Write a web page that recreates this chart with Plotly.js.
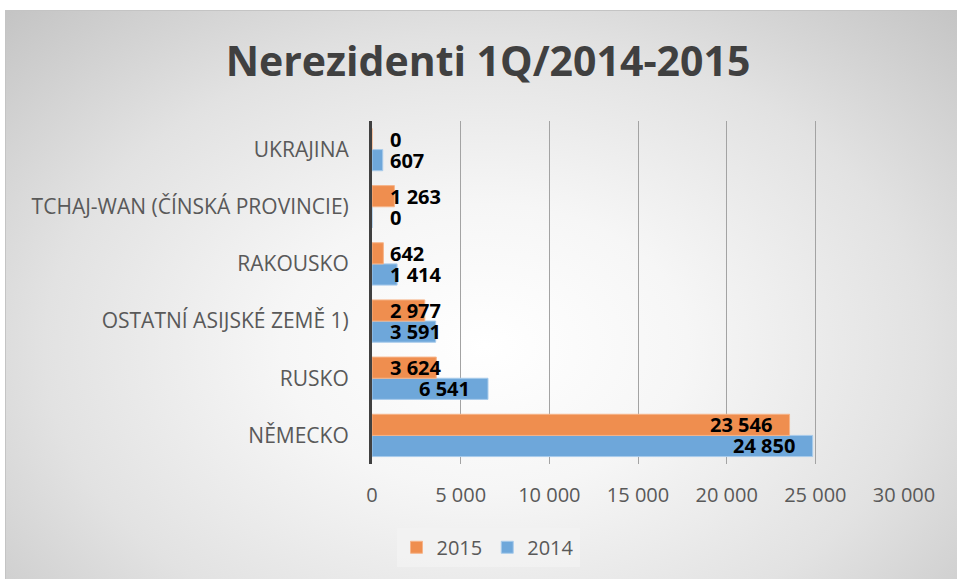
<!DOCTYPE html>
<html>
<head>
<meta charset="utf-8">
<script src="https://cdn.plot.ly/plotly-3.0.1.min.js"></script>
<style>
  html, body { margin: 0; padding: 0; background: #ffffff; }
  #bg {
    position: absolute; left: 5px; top: 10px; width: 960px; height: 580px;
    box-sizing: border-box; border: 1px solid #c4c4c4;
    background: radial-gradient(ellipse farthest-corner at 50% 58%, #ffffff 0%, #f6f6f6 30%, #e2e2e2 65%, #c4c4c4 100%);
  }
  #chart { position: absolute; left: 0; top: 0; width: 957px; height: 579px; }
</style>
</head>
<body>
<div id="bg"></div>
<div id="chart"></div>
<script>
// Data (bottom to top, as drawn on the category axis)
const categories = ["NĚMECKO", "RUSKO", "OSTATNÍ ASIJSKÉ ZEMĚ 1)", "RAKOUSKO", "TCHAJ-WAN (ČÍNSKÁ PROVINCIE)", "UKRAJINA"];
const values2015 = [23546, 3624, 2977, 642, 1263, 0];
const values2014 = [24850, 6541, 3591, 1414, 0, 607];
const seriesNames = ["2015", "2014"];
const xTickValues = [0, 5000, 10000, 15000, 20000, 25000, 30000];
const titleText = "Nerezidenti 1Q/2014-2015";

const W = 957, H = 579;
const M = { l: 372, r: 53, t: 121, b: 112 };
const xMax = 30000;
const plotW = W - M.l - M.r;
const pxPerUnit = plotW / xMax;

function fmt(v) {
  return String(v).replace(/\B(?=(\d{3})+(?!\d))/g, " ");
}

const labelFont = 'bold 20px "Open Sans"';
const cnv = document.createElement("canvas").getContext("2d");
cnv.font = labelFont;
const pad = 16;
const barShift = 10.5;

function labelsFor(vals, shift) {
  return vals.map((v, i) => {
    const txt = fmt(v);
    const w = cnv.measureText(txt).width;
    const L = v * pxPerUnit;
    const fits = L >= w + 2 * pad;
    return {
      x: fits ? v : 0, y: categories[i], xref: "x", yref: "y",
      text: "<b>" + txt + "</b>", showarrow: false,
      xanchor: fits ? "right" : "left", yanchor: "middle",
      xshift: fits ? -pad : pad, yshift: shift,
      font: { family: "Open Sans", size: 20, color: "#000000" }
    };
  });
}

const traces = [
  {
    type: "bar", orientation: "h", name: seriesNames[1],
    y: categories, x: values2014,
    marker: { color: "#6ea7da", line: { color: "#a8cbeb", width: 1 } },
    hoverinfo: "skip"
  },
  {
    type: "bar", orientation: "h", name: seriesNames[0],
    y: categories, x: values2015,
    marker: { color: "#ef8e4f", line: { color: "#f6b489", width: 1 } },
    hoverinfo: "skip"
  }
];

const layout = {
  width: W, height: H,
  margin: M,
  paper_bgcolor: "rgba(0,0,0,0)",
  plot_bgcolor: "rgba(0,0,0,0)",
  separators: ", ",
  barmode: "group",
  bargap: 0.26,
  bargroupgap: 0,
  title: {
    text: "<b>" + titleText + "</b>",
    font: { family: "Open Sans", size: 41, color: "#404040" },
    x: 488 / W, xanchor: "center", xref: "container",
    y: 1 - 62 / H, yanchor: "middle", yref: "container"
  },
  xaxis: {
    range: [0, xMax], tickvals: xTickValues, ticktext: xTickValues.map(fmt),
    showgrid: true, gridcolor: "#a3a3a3", gridwidth: 1,
    zeroline: false, showline: false, ticks: "",
    ticklabelstandoff: 17,
    tickfont: { family: "Open Sans", size: 20, color: "#595959" },
    fixedrange: true
  },
  yaxis: {
    type: "category", categoryorder: "array", categoryarray: categories,
    showgrid: false, zeroline: false,
    showline: true, linecolor: "#404040", linewidth: 3,
    ticks: "", ticklabelstandoff: 16,
    tickfont: { family: "Open Sans", size: 21, color: "#595959" },
    fixedrange: true
  },
  showlegend: true,
  legend: {
    orientation: "h", traceorder: "reversed",
    x: (488 - M.l) / plotW, xanchor: "center",
    y: (H - M.b - 551) / (H - M.t - M.b), yanchor: "middle",
    bgcolor: "rgba(242,242,242,0.9)",
    font: { family: "Open Sans", size: 20, color: "#595959" },
    itemwidth: 30
  },
  annotations: labelsFor(values2015, barShift).concat(labelsFor(values2014, -barShift))
};

Plotly.newPlot("chart", traces, layout, { displayModeBar: false, staticPlot: true });
</script>
</body>
</html>
